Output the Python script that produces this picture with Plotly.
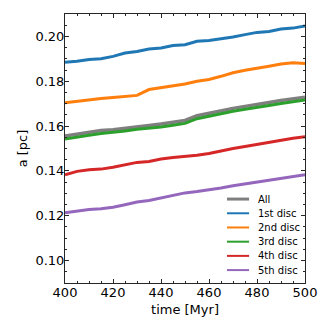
import plotly.graph_objects as go

# time samples [Myr]
t = [400, 405, 410, 415, 420, 425, 430, 435, 440, 445, 450,
     455, 460, 465, 470, 475, 480, 485, 490, 495, 500]

# semi-major axis [pc]
a_all = [0.1556, 0.1565, 0.1572, 0.1580, 0.1584, 0.1591, 0.1599, 0.1603, 0.1609, 0.1617, 0.1625,
         0.1646, 0.1658, 0.1669, 0.1679, 0.1688, 0.1695, 0.1705, 0.1714, 0.1722, 0.1729]
a_1st = [0.1885, 0.1889, 0.1897, 0.1900, 0.1911, 0.1926, 0.1933, 0.1944, 0.1948, 0.1959, 0.1963,
         0.1978, 0.1982, 0.1988, 0.1997, 0.2008, 0.2018, 0.2022, 0.2033, 0.2037, 0.2047]
a_2nd = [0.1704, 0.1711, 0.1719, 0.1723, 0.1727, 0.1731, 0.1737, 0.1763, 0.1771, 0.1778, 0.1788,
         0.1800, 0.1808, 0.1822, 0.1838, 0.1849, 0.1857, 0.1867, 0.1877, 0.1882, 0.1879]
a_3rd = [0.1542, 0.1552, 0.1559, 0.1567, 0.1571, 0.1578, 0.1586, 0.1590, 0.1596, 0.1604, 0.1612,
         0.1633, 0.1645, 0.1656, 0.1666, 0.1675, 0.1682, 0.1692, 0.1701, 0.1709, 0.1716]
a_4th = [0.1383, 0.1398, 0.1405, 0.1408, 0.1416, 0.1427, 0.1438, 0.1442, 0.1453, 0.1460, 0.1464,
         0.1470, 0.1478, 0.1490, 0.1500, 0.1509, 0.1519, 0.1527, 0.1537, 0.1546, 0.1552]
a_5th = [0.1213, 0.1221, 0.1228, 0.1231, 0.1238, 0.1249, 0.1261, 0.1268, 0.1280, 0.1290, 0.1302,
         0.1308, 0.1315, 0.1324, 0.1334, 0.1342, 0.1349, 0.1360, 0.1368, 0.1376, 0.1383]

names = ['All', '1st disc', '2nd disc', '3rd disc', '4th disc', '5th disc']
colors = ['#7f7f7f', '#1f77b4', '#ff7f0e', '#2ca02c', '#d62728', '#9467bd']
series = [a_all, a_1st, a_2nd, a_3rd, a_4th, a_5th]
widths = [3.5, 3, 3, 3, 3, 3]
leg_widths = [3, 2, 2, 2, 2, 2]

fig = go.Figure()
for name, col, ys, w in zip(names, colors, series, widths):
    fig.add_trace(go.Scatter(x=t, y=ys, mode='lines', name=name,
                             line=dict(color=col, width=w), showlegend=False))

# matplotlib-style compact legend (plotly's minimum row height is too tall)
for i, (name, col, lw) in enumerate(zip(names, colors, leg_widths)):
    yy = 0.312 - 0.0528 * i
    fig.add_shape(type='line', xref='paper', yref='paper',
                  x0=0.675, x1=0.767, y0=yy, y1=yy,
                  line=dict(color=col, width=lw))
    fig.add_annotation(text=name, xref='paper', yref='paper', x=0.796, y=yy,
                       xanchor='left', yanchor='middle', showarrow=False,
                       font=dict(size=10, color='black'))

axis_common = dict(
    showline=True, linecolor='#262626', linewidth=1, mirror='allticks',
    ticks='inside', ticklen=4, tickwidth=1, tickcolor='#262626',
    showgrid=False, zeroline=False, automargin=False,
    tickfont=dict(family='DejaVu Sans', size=13, color='black'),
)

fig.update_xaxes(range=[400, 500], tick0=400, dtick=20, ticklabelstandoff=-3,
                 minor=dict(dtick=5, ticks='inside', ticklen=2, tickcolor='#262626'),
                 title=dict(text='time [Myr]', font=dict(size=13, color='black'), standoff=6),
                 **axis_common)
fig.update_yaxes(range=[0.09, 0.21], tick0=0.1, dtick=0.02, tickformat='.2f',
                 ticklabelstandoff=-3,
                 minor=dict(dtick=0.005, ticks='inside', ticklen=2, tickcolor='#262626'),
                 title=dict(text='a [pc]', font=dict(size=13, color='black'), standoff=4),
                 **axis_common)

# the page body adds an 8px offset at top/left, so the figure is 8px smaller
fig.update_layout(
    width=324, height=324,
    margin=dict(l=57, r=27, t=6, b=49),
    paper_bgcolor='white', plot_bgcolor='white',
    font=dict(family='DejaVu Sans', color='black'),
)

fig.write_html("out.html")
